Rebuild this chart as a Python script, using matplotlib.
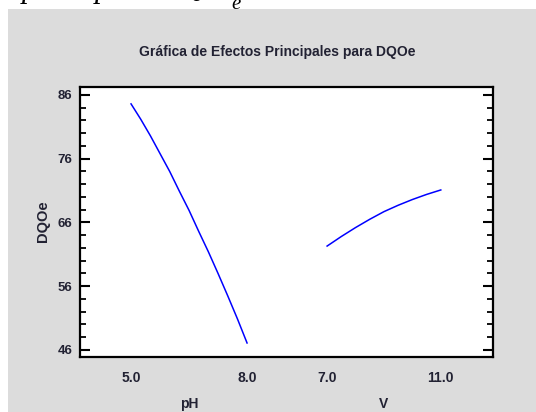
import numpy as np
import matplotlib
matplotlib.use("Agg")
import matplotlib.pyplot as plt
from matplotlib.patches import Rectangle
from matplotlib.ticker import FixedLocator, MultipleLocator

# ---- data ----
ph_levels = [5.0, 5.25, 5.5, 5.75, 6.0, 6.25, 6.5, 6.75, 7.0, 7.25, 7.5, 7.75, 8.0]
dqo_ph = [84.6, 82.2, 79.6, 76.8, 74.0, 70.9, 67.9, 64.6, 61.4, 58.0, 54.5, 50.9, 47.1]
v_levels = [7.0, 7.5, 8.0, 8.5, 9.0, 9.5, 10.0, 10.5, 11.0]
dqo_v = [62.3, 63.8, 65.2, 66.5, 67.7, 68.7, 69.6, 70.4, 71.1]

factor_names = ["pH", "V"]
tick_labels = ["5.0", "8.0", "7.0", "11.0"]
y_major = [46, 56, 66, 76, 86]

title = "Gráfica de Efectos Principales para DQOe"
ylabel = "DQOe"

W, H = 536, 412
fig = plt.figure(figsize=(W / 100, H / 100), dpi=100, facecolor="white")

# gray panel
fig.patches.append(Rectangle((8 / W, 0), 1 - 8 / W, 1 - 9 / H,
                             transform=fig.transFigure, facecolor="#dcdcdc",
                             edgecolor="none", zorder=-5))

# cropped formula fragments on top white strip
serif = dict(family="Liberation Serif", style="italic", color="black")
fig.text(22 / W, 1 + 3 / H, "p", fontsize=22, va="baseline", zorder=-10, **serif)
fig.text(95 / W, 1 + 3 / H, "p", fontsize=22, va="baseline", zorder=-10, **serif)
fig.text(180 / W, 1 + 4 / H, "Q", fontsize=22, va="baseline", zorder=-10, **serif)
fig.text(231 / W, 1 - 9 / H, "e", fontsize=15, va="baseline", zorder=-10, **serif)

ax = fig.add_axes([80 / W, (H - 357) / H, 413 / W, 270 / H])
ax.set_facecolor("white")

# layout positions of each factor segment on the shared x axis
ph_span = (0.0, 1.0)
v_span = (1.69, 2.67)

def to_pos(vals, lo, hi, span):
    vals = np.asarray(vals, dtype=float)
    return span[0] + (vals - lo) / (hi - lo) * (span[1] - span[0])

ax.plot(to_pos(ph_levels, ph_levels[0], ph_levels[-1], ph_span), dqo_ph,
        color="#0000ff", lw=1.1)
ax.plot(to_pos(v_levels, v_levels[0], v_levels[-1], v_span), dqo_v,
        color="#0000ff", lw=1.1)

ax.set_xlim(-0.44, 3.12)
ax.set_ylim(44.9, 87.25)

font = dict(family="Liberation Sans", weight="bold")
txtcol = "#222233"

ax.set_xticks([ph_span[0], ph_span[1], v_span[0], v_span[1]])
ax.set_xticklabels(tick_labels, fontsize=10, color=txtcol, **font)
ax.tick_params(axis="x", length=0, pad=10)

ax.yaxis.set_major_locator(FixedLocator(y_major))
ax.yaxis.set_minor_locator(MultipleLocator(2))
ax.set_yticklabels([str(v) for v in y_major], fontsize=9.5, color=txtcol, **font)
ax.tick_params(axis="y", which="major", direction="in", length=7, width=1.5,
               left=True, right=True, pad=5.5)
ax.tick_params(axis="y", which="minor", direction="in", length=4, width=1.3,
               left=True, right=True)

for s in ax.spines.values():
    s.set_linewidth(1.6)
    s.set_color("black")

# factor names
xt = ax.get_xaxis_transform()
ax.text(np.mean(ph_span), -0.174, factor_names[0], transform=xt, ha="center",
        va="center", fontsize=10, color=txtcol, **font)
ax.text(np.mean(v_span), -0.174, factor_names[1], transform=xt, ha="center",
        va="center", fontsize=10, color=txtcol, **font)

fig.text(43 / W, 1 - 221 / H, ylabel, rotation=90, ha="center", va="center",
         fontsize=10.5, color=txtcol, **font)
fig.text(277 / W, 1 - 52 / H, title, ha="center", va="center",
         fontsize=10, color=txtcol, **font)

fig.savefig("out.png", dpi=100, facecolor="white")
